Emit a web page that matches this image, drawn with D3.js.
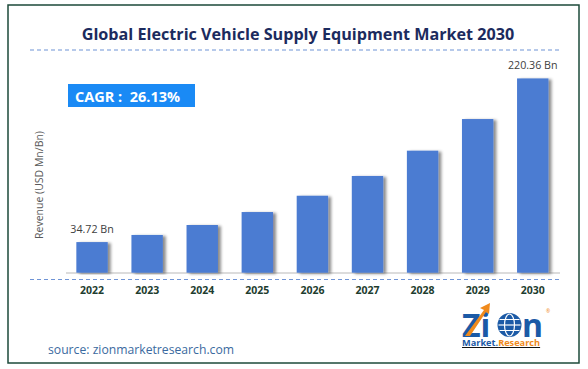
<!DOCTYPE html>
<meta charset="utf-8">
<style>
body { margin: 0; background: #fff; }
text { font-family: "Open Sans", "Noto Sans", sans-serif; }
</style>
<svg width="588" height="369"></svg>
<script src="https://d3js.org/d3.v7.min.js"></script>
<script>

var years = ["2022", "2023", "2024", "2025", "2026", "2027", "2028", "2029", "2030"];
var revenue = [34.72, 42.8, 54.1, 68.8, 87.3, 109.7, 138.4, 174.3, 220.36];
var barLabels = ["34.72 Bn", "", "", "", "", "", "", "", "220.36 Bn"];
var cagrText = "CAGR :  26.13%";

var svg = d3.select("svg");

// shadow on the right of each bar
var defs = svg.append("defs");
var f = defs.append("filter").attr("id", "shadow")
    .attr("x", "-20%").attr("y", "-5%").attr("width", "150%").attr("height", "110%");
f.append("feDropShadow")
    .attr("dx", 3).attr("dy", 1).attr("stdDeviation", 1.5)
    .attr("flood-color", "#000").attr("flood-opacity", 0.45);

// frame
svg.append("rect")
    .attr("x", 8).attr("y", 5).attr("width", 571).attr("height", 358)
    .attr("fill", "none").attr("stroke", "#1d4a3a").attr("stroke-width", 1.5);

// title
var title = svg.append("text")
    .attr("x", 298).attr("y", 40)
    .attr("text-anchor", "middle")
    .attr("font-weight", "bold")
    .attr("font-size", 16)
    .attr("fill", "#1c2b5e")
    .text("Global Electric Vehicle Supply Equipment Market 2030");
var tl = title.node().getComputedTextLength();
title.attr("font-size", 16 * 433 / tl);

function dashed(y) {
  svg.append("line")
      .attr("x1", 30).attr("x2", 561).attr("y1", y).attr("y2", y)
      .attr("stroke", "#6f94d6").attr("stroke-width", 1.2)
      .attr("stroke-dasharray", "4,3");
}
dashed(50);
dashed(279.5);

var x = d3.scaleBand()
    .domain(years)
    .range([64.5, 560.3])
    .paddingInner(0.43)
    .paddingOuter(0.215);

var y = d3.scaleLinear()
    .domain([0, 250])
    .range([272.7, 52.3]);

// baseline
svg.append("line")
    .attr("x1", 66).attr("x2", 560).attr("y1", 273).attr("y2", 273)
    .attr("stroke", "#d0d0d0").attr("stroke-width", 1.5);

svg.append("g").selectAll("rect")
    .data(revenue)
    .join("rect")
    .attr("x", function(d, i) { return x(years[i]); })
    .attr("y", function(d) { return y(d); })
    .attr("width", x.bandwidth())
    .attr("height", function(d) { return y(0) - y(d); })
    .attr("fill", "#4b7bd2")
    .attr("filter", "url(#shadow)");

svg.append("g").selectAll("text")
    .data(revenue)
    .join("text")
    .attr("x", function(d, i) { return x(years[i]) + x.bandwidth() / 2; })
    .attr("y", function(d) { return y(d) - 9; })
    .attr("text-anchor", "middle")
    .attr("font-size", 10.7)
    .attr("fill", "#404040")
    .text(function(d, i) { return barLabels[i]; });

// x axis labels
var xAxis = svg.append("g")
    .attr("transform", "translate(0,279)")
    .call(d3.axisBottom(x).tickSize(0).tickPadding(8));
xAxis.select(".domain").remove();
xAxis.selectAll("text")
    .attr("font-family", "'Open Sans', sans-serif")
    .attr("font-weight", "bold")
    .attr("font-size", 10.5)
    .attr("fill", "#1e3d2f");

// y label
svg.append("text")
    .attr("transform", "translate(43,185) rotate(-90)")
    .attr("text-anchor", "middle")
    .attr("font-size", 10.5)
    .attr("fill", "#595959")
    .text("Revenue (USD Mn/Bn)");

// CAGR box
svg.append("rect")
    .attr("x", 68).attr("y", 84).attr("width", 127).attr("height", 23)
    .attr("fill", "#1a8af5");
svg.append("text")
    .attr("x", 75).attr("y", 102)
    .attr("font-weight", "bold")
    .attr("font-size", 14.5)
    .attr("fill", "#fff")
    .style("white-space", "pre")
    .text(cagrText);

// source
svg.append("text")
    .attr("x", 48).attr("y", 354)
    .attr("font-size", 12.2)
    .attr("fill", "#3b6aa0")
    .text("source: zionmarketresearch.com");

// logo
var blue = "#1b5aa6", orange = "#f08a1c";
var logo = svg.append("g").attr("transform", "translate(462,0)");
logo.append("text")
    .attr("x", 0).attr("y", 337)
    .attr("font-family", "'DejaVu Sans', sans-serif")
    .attr("font-weight", "bold")
    .attr("font-size", 32)
    .attr("fill", blue)
    .text("Zi");
logo.append("text")
    .attr("x", 60).attr("y", 337)
    .attr("font-family", "'DejaVu Sans', sans-serif")
    .attr("font-weight", "bold")
    .attr("font-size", 32)
    .attr("fill", blue)
    .text("n");
// globe
var globe = logo.append("g").attr("transform", "translate(47.5,325)");
globe.append("circle").attr("r", 12).attr("fill", blue);
globe.append("ellipse").attr("rx", 5).attr("ry", 11).attr("fill", "none").attr("stroke", "#fff").attr("stroke-width", 1.2);
globe.append("line").attr("x1", -11).attr("x2", 11).attr("stroke", "#fff").attr("stroke-width", 1.2);
globe.append("line").attr("x1", -10).attr("x2", 10).attr("y1", -5.5).attr("y2", -5.5).attr("stroke", "#fff").attr("stroke-width", 1);
globe.append("line").attr("x1", -10).attr("x2", 10).attr("y1", 5.5).attr("y2", 5.5).attr("stroke", "#fff").attr("stroke-width", 1);
// orange arrow across the Z
logo.append("path")
    .attr("d", "M3,336 L22,310 L18,308 L28,303 L27,314 L24,312 L8,336 Z")
    .attr("fill", orange);
logo.append("text")
    .attr("x", 0).attr("y", 346)
    .attr("font-weight", "bold")
    .attr("font-size", 9.2)
    .attr("text-decoration", "underline")
    .html('<tspan fill="' + blue + '">Market.</tspan><tspan fill="' + orange + '">Research</tspan>');
logo.append("text")
    .attr("x", 84).attr("y", 313)
    .attr("font-size", 5)
    .attr("fill", orange)
    .text("®");
</script>
